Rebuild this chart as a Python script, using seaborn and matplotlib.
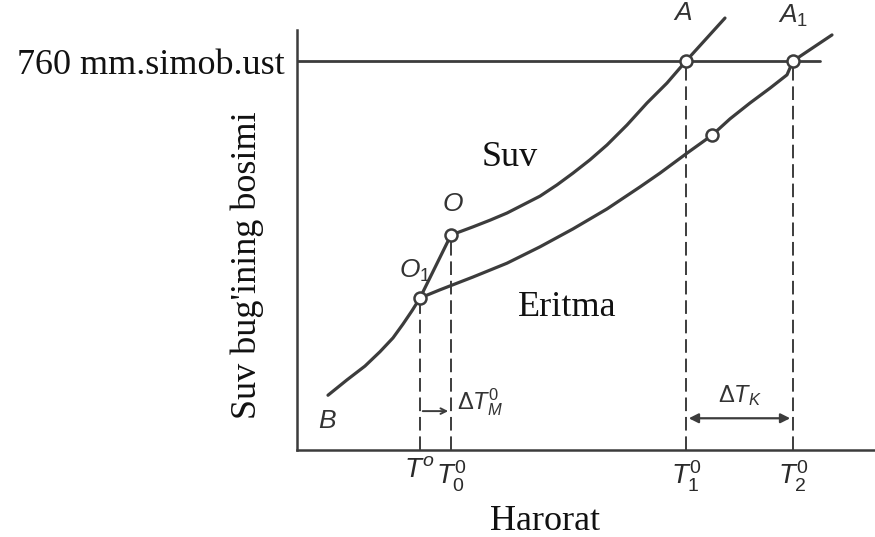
import matplotlib
matplotlib.use("Agg")
import pandas as pd
import matplotlib.pyplot as plt
import seaborn as sns

# --------------------------------------------------
# Data
# (pressure in mm Hg, temperature in arbitrary units)
# --------------------------------------------------

P_ATM = 760

ice_t = [3.1, 5.0, 6.8, 8.3, 9.6, 10.6, 11.5, 12.3, 15.4]
ice_p = [107, 137, 164, 192, 219, 246, 272, 297, 420]

water_t = [15.4, 17.6, 19.3, 21.0, 22.8, 24.3, 26.0, 27.6,
           29.3, 31.0, 33.0, 35.0, 37.0, 38.9, 42.8]
water_p = [420, 436, 449, 463, 481, 496, 518, 541,
           567, 596, 635, 678, 717, 760, 844]

solution_t = [12.3, 14.3, 17.6, 21.0, 24.3, 27.6, 31.0, 34.3, 36.3,
              39.0, 41.5, 43.3, 45.3, 47.3, 49.0, 49.6, 53.5]
solution_p = [297, 313, 338, 365, 397, 432, 471, 514, 541,
              580, 615, 647, 678, 707, 733, 760, 811]

# marked points: O1, O, A, A1 and one on the solution curve
point_t = [12.3, 15.4, 38.9, 49.6, 41.5]
point_p = [297, 420, 760, 760, 615]

# characteristic temperatures and where their drop lines start
tick_t = [12.3, 15.4, 38.9, 49.6]
tick_p = [297, 420, 760, 760]
tick_labels = [r"$T^o$", r"$T_0^0$", r"$T_1^0$", r"$T_2^0$"]

T_MAX = 57.8
P_MAX = 820.6
ATM_LINE_END = 52.3

LINE = "#3c3c3c"

# --------------------------------------------------
# Style
# --------------------------------------------------

sns.set_style("white")

plt.rcParams["font.family"] = ["Liberation Serif", "DejaVu Serif"]
plt.rcParams["mathtext.fontset"] = "custom"
plt.rcParams["mathtext.rm"] = "Liberation Sans"
plt.rcParams["mathtext.it"] = "Liberation Sans:italic"

fig = plt.figure(figsize=(8.75, 5.37), dpi=100)

ax = fig.add_axes([0.3394, 0.162, 0.6606, 0.7821])

# --------------------------------------------------
# Curves
# --------------------------------------------------

curves = [
    (ice_t, ice_p),
    (water_t, water_p),
    (solution_t, solution_p)
]

for t, p in curves:

    sns.lineplot(
        x=t,
        y=p,
        sort=False,
        color=LINE,
        linewidth=2.3,
        solid_joinstyle="round",
        solid_capstyle="round",
        ax=ax,
        clip_on=False
    )

ax.axhline(
    P_ATM,
    xmin=0,
    xmax=ATM_LINE_END / T_MAX,
    color=LINE,
    linewidth=2.0
)

ax.vlines(
    tick_t,
    0,
    tick_p,
    colors=LINE,
    linewidth=1.4,
    linestyles=(0, (7, 3))
)

sns.scatterplot(
    x=point_t,
    y=point_p,
    s=75,
    marker="o",
    facecolor="white",
    edgecolor=LINE,
    linewidth=1.8,
    zorder=5,
    ax=ax
)

# --------------------------------------------------
# Arrows
# --------------------------------------------------

ax.annotate(
    "",
    xy=(tick_t[1], 76),
    xytext=(tick_t[0], 76),
    arrowprops=dict(arrowstyle="->", color=LINE, lw=1.4)
)

ax.annotate(
    "",
    xy=(tick_t[3], 62),
    xytext=(tick_t[2], 62),
    arrowprops=dict(arrowstyle="<|-|>", color=LINE, lw=1.6,
                    mutation_scale=14)
)

# --------------------------------------------------
# Labels
# --------------------------------------------------

serif = dict(fontsize=26, color="#111111")
mark = dict(fontsize=19, color="#333333", ha="center", va="center")

ax.text(21.3, 572, "Suv", ha="center", va="center", **serif)
ax.text(27.0, 279, "Eritma", ha="center", va="center", **serif)

ax.text(38.6, 852, r"$A$", **mark)
ax.text(49.6, 848, r"$A_1$", **mark)
ax.text(15.6, 478, r"$O$", **mark)
ax.text(11.8, 350, r"$O_1$", **mark)
ax.text(3.0, 55, r"$B$", **mark)
ax.text(16.0, 94, r"$\Delta T_M^0$", fontsize=17, color="#333333",
        ha="left", va="center")
ax.text(44.3, 107, r"$\Delta T_K$", fontsize=17, color="#333333",
        ha="center", va="center")

# --------------------------------------------------
# Axes
# --------------------------------------------------

ax.set_xlim(0, T_MAX)
ax.set_ylim(0, P_MAX)

sns.despine(ax=ax, top=True, right=True)

for side in ["left", "bottom"]:
    ax.spines[side].set_color(LINE)
    ax.spines[side].set_linewidth(1.8)

ax.set_xticks(tick_t)
ax.set_xticklabels(tick_labels, fontsize=20, color="#2a2a2a")
ax.tick_params(axis="x", length=0, pad=6)

ax.set_yticks([P_ATM])
ax.set_yticklabels(["760 mm.simob.ust"], fontsize=26, color="#111111")
ax.tick_params(axis="y", length=0, pad=9)

ax.set_xlabel("Harorat", fontsize=26, color="#111111")
ax.xaxis.label.set_va("center")
ax.xaxis.set_label_coords(0.43, -0.17)

ax.set_ylabel("Suv bug'ining bosimi", fontsize=26, color="#111111")
ax.yaxis.label.set_va("center")
ax.yaxis.set_label_coords(-0.0865, 0.44)

fig.savefig("out.png", dpi=100)
